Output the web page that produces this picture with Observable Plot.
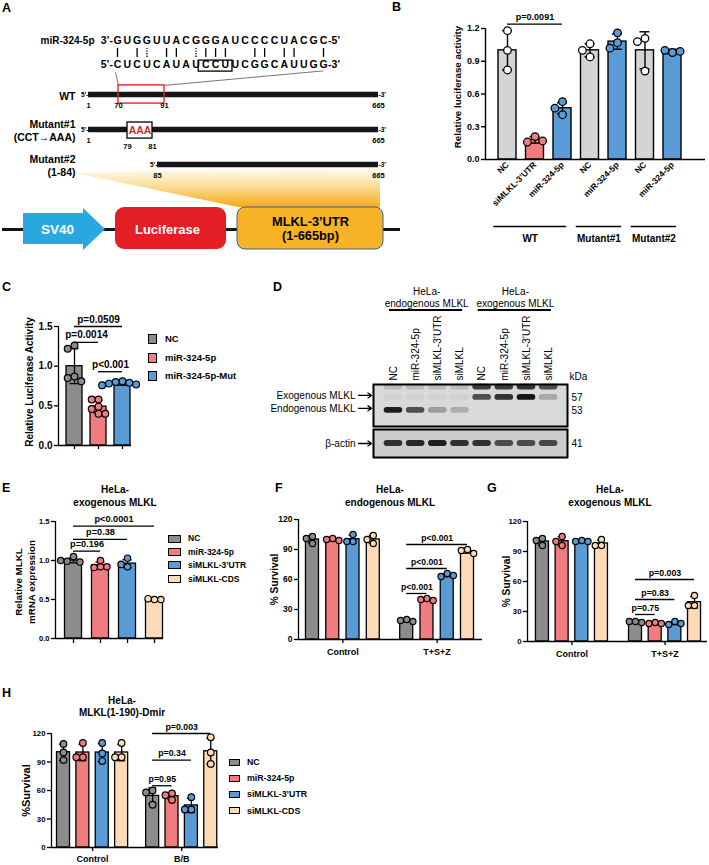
<!DOCTYPE html>
<html><head><meta charset="utf-8">
<script src="https://cdn.jsdelivr.net/npm/d3@7"></script>
<script src="https://cdn.jsdelivr.net/npm/@observablehq/plot@0.6"></script>
<style>
html,body{margin:0;padding:0;background:#fff;}
#fig{position:relative;width:709px;height:865px;overflow:hidden;background:#fff;font-family:Arial,"Liberation Sans",Helvetica,sans-serif;}
#fig svg{position:absolute;overflow:visible;max-width:none !important;}
#fig .t{position:absolute;white-space:pre;line-height:1;color:#000;font-family:Arial,"Liberation Sans",Helvetica,sans-serif;}
</style></head><body><div id="fig"></div>
<script>
// ===================== DATA =====================
// Panel A – miR-324-5p / MLKL 3'UTR duplex and reporter constructs
const mirSeq = "GUGGUUACGGGAUCCCCUACGC".split("");
const mrnaSeq = "CUCUCAUAUCCUUCGGCAUUGG".split("");
const pairSlots = [0, 2, 5, 6, 9, 10, 11, 14, 15, 17, 18, 21];
const wobbleSlots = [3, 8];
const seedBox = [9, 11];
const utrNames = ["WT", "Mutant#1", "Mutant#2"];
const utrSub = ["", "(CCT→AAA)", "(1-84)"];
const utrStart = [1, 1, 85];
const utrEnd = [665, 665, 665];
const wtSite = [70, 91];
const mutSite = [79, 81];
const mutText = "AAA";
const constructParts = ["SV40", "Luciferase", "MLKL-3’UTR\n(1-665bp)"];

// Panel B
const bConds = ["NC", "siMLKL-3’UTR", "miR-324-5p", "NC", "miR-324-5p", "NC", "miR-324-5p"];
const bGroups = ["WT", "WT", "WT", "Mutant#1", "Mutant#1", "Mutant#2", "Mutant#2"];
const bMeans = [1.00, 0.18, 0.47, 1.00, 1.08, 1.00, 0.99];
const bSD = [0.18, 0.03, 0.05, 0.06, 0.07, 0.17, 0.02];
const bPoints = [[1.18, 1.00, 0.82], [0.21, 0.16, 0.17], [0.53, 0.47, 0.41], [1.06, 1.00, 0.94], [1.16, 1.07, 1.02], [1.11, 1.08, 0.81], [0.98, 1.00, 0.99]];
const bTicks = [0, 0.3, 0.6, 0.9, 1.2];
const bSig = [{from: 0, to: 2, y: 1.24, label: "p=0.0091"}];

// Panel C
const cConds = ["NC", "miR-324-5p", "miR-324-5p-Mut"];
const cMeans = [1.00, 0.49, 0.78];
const cSD = [0.22, 0.08, 0.02];
const cPoints = [[1.26, 1.22, 0.87, 0.85, 0.81], [0.58, 0.58, 0.49, 0.46, 0.40, 0.40], [0.81, 0.80, 0.79, 0.78, 0.77, 0.76]];
const cTicks = [0, 0.5, 1.0, 1.5];
const cSig = [{from: 0, to: 2, y: 1.5, label: "p=0.0509"}, {from: 0, to: 1, y: 1.30, label: "p=0.0014"}, {from: 1, to: 2, y: 0.93, label: "p<0.001"}];

// Panel D – western blot
const dLanes = ["NC", "miR-324-5p", "siMLKL-3’UTR", "siMLKL", "NC", "miR-324-5p", "siMLKL-3’UTR", "siMLKL"];
const dSets = [{name: "HeLa-\nendogenous MLKL", from: 0, to: 3}, {name: "HeLa-\nexogenous MLKL", from: 4, to: 7}];
const dMarkers = [{name: "Exogenous MLKL", kDa: 57}, {name: "Endogenous MLKL", kDa: 53}];
const dBandKDa = [60.2, 57, 53];
const dBandLevel = [
  [0.15, 0.15, 0.15, 0.15, 0.8, 0.8, 0.85, 0.7],
  [0.04, 0.04, 0.04, 0.04, 0.7, 0.85, 1.0, 0.25],
  [0.95, 0.7, 0.3, 0.22, 0, 0, 0, 0]
];
const actinKDa = 41;
const actinLevel = [0.85, 0.9, 0.95, 0.85, 0.85, 0.7, 0.7, 0.72];

// Panels E–H
const conds4 = ["NC", "miR-324-5p", "siMLKL-3’UTR", "siMLKL-CDS"];
const eMeans = [1.00, 0.94, 0.96, 0.50];
const eSD = [0.03, 0.04, 0.05, 0.01];
const ePoints = [[1.05, 0.99, 0.98, 1.00], [1.00, 0.92, 0.91, 0.92], [1.03, 0.92, 0.95], [0.50, 0.51, 0.50]];
const eTicks = [0, 0.5, 1.0, 1.5];
const eSig = [{from: 0, to: 3, y: 1.44, label: "p<0.0001"}, {from: 0, to: 2, y: 1.27, label: "p=0.38"}, {from: 0, to: 1, y: 1.12, label: "p=0.196"}];

const survTicks = [0, 30, 60, 90, 120];
const fTreats = ["Control", "T+S+Z"];
const fMeans = [100, 100, 100.3, 100, 19, 40, 64.3, 88.3];
const fSD = [3.6, 1, 4, 4, 1, 1, 1.5, 2];
const fPoints = [[103, 101, 96], [101, 100, 99], [105, 98, 98], [104, 96, 100], [20, 19, 18], [41, 40, 39], [66, 63, 64], [90, 89, 86]];
const fSig = [{from: 0, to: 3, y: 95, label: "p<0.001"}, {from: 0, to: 2, y: 71, label: "p<0.001"}, {from: 0, to: 1, y: 46, label: "p<0.001"}];

const gTreats = ["Control", "T+S+Z"];
const gMeans = [100, 100.3, 100.3, 98, 19.7, 18.3, 18.3, 39.3];
const gSD = [3.6, 4.5, 0.6, 3.5, 0.6, 0.6, 1.5, 5.8];
const gPoints = [[103, 101, 96], [105, 100, 96], [101, 100, 100], [102, 96, 96], [20, 20, 19], [19, 18, 18], [20, 17, 18], [46, 36, 36]];
const gSig = [{from: 0, to: 3, y: 62, label: "p=0.003"}, {from: 0, to: 2, y: 42, label: "p=0.83"}, {from: 0, to: 1, y: 27, label: "p=0.75"}];

const hTreats = ["Control", "B/B"];
const hMeans = [100.3, 100, 100, 100, 54.3, 54, 44.3, 101.3];
const hSD = [8.5, 8.7, 9.5, 8.7, 8.4, 3.6, 7.5, 13.6];
const hPoints = [[109, 100, 92], [110, 95, 95], [110, 99, 91], [110, 95, 95], [60, 58, 45], [57, 55, 50], [53, 40, 40], [116, 100, 88]];
const hSig = [{from: 0, to: 3, y: 120, label: "p=0.003"}, {from: 0, to: 2, y: 92, label: "p=0.34"}, {from: 0, to: 1, y: 65, label: "p=0.95"}];

// ===================== STYLE / HELPERS =====================
const FONT = "Arial, 'Liberation Sans', Helvetica, sans-serif";
const STYLE = {fontFamily: FONT, fontSize: "9px", fontWeight: "bold", background: "transparent", overflow: "visible", color: "#000"};
const C_GRAY = "#8c8c8e", C_PINK = "#f07c80", C_BLUE = "#5b9bd5", C_PEACH = "#fddbb6", C_LGRAY = "#d4d4d4";
const colors4 = [C_GRAY, C_PINK, C_BLUE, C_PEACH];
const fig = document.getElementById("fig");

function put(el, left, top) { el.style.left = left + "px"; el.style.top = top + "px"; fig.appendChild(el); return el; }
function txt(s, x, base, o = {}) {
  const size = o.size || 10;
  const d = document.createElement("div");
  d.className = "t"; d.textContent = s;
  d.style.fontSize = size + "px"; d.style.fontWeight = o.weight || "bold"; d.style.color = o.color || "#000";
  d.style.left = x + "px"; d.style.top = (base - 0.846 * size) + "px";
  if (o.anchor === "middle") d.style.transform = "translateX(-50%)";
  if (o.anchor === "end") d.style.transform = "translateX(-100%)";
  fig.appendChild(d); return d;
}
function legend(names, cols, o) {
  names.forEach((n, i) => {
    const cy = o.y + i * o.step;
    const s = document.createElement("div");
    s.style.cssText = `position:absolute;left:${o.x}px;top:${cy - o.h / 2}px;width:${o.w}px;height:${o.h}px;background:${cols[i]};border:1.3px solid #000;box-sizing:border-box;`;
    fig.appendChild(s);
    txt(n, o.tx, cy + 0.36 * o.size, {size: o.size});
  });
}
function swarm(vals, ppuX, ppuY, r) {
  const placed = [], step = 2 * r;
  return vals.map(v => {
    for (const k of [0, -1, 1, -2, 2, -3, 3]) {
      const px = k * step;
      if (placed.every(p => Math.hypot(p.px - px, (p.v - v) * ppuY) >= 2 * r * 0.92)) {
        placed.push({px, v}); return {dx: px / ppuX, v};
      }
    }
    placed.push({px: 0, v}); return {dx: 0, v};
  });
}
function barPanel(c) {
  const [x0, x1] = c.xDomain, [y0, y1] = c.yDomain;
  const ppuX = (c.width - c.mL - c.mR) / (x1 - x0), ppuY = (c.height - c.mT - c.mB) / (y1 - y0);
  const hw = c.barW / 2 / ppuX, cw = c.capW / 2 / ppuX;
  const dots = c.bars.flatMap(b => swarm(b.pts, ppuX, ppuY, c.r).map(o => ({x: b.pos + o.dx, y: o.v, fill: b.ptFill})));
  const tickMap = new Map(c.xTicks.map(t => [t.pos, t.label]));
  const marks = [
    Plot.rect(c.bars, {x1: b => b.pos - hw, x2: b => b.pos + hw, y1: y0, y2: "mean", fill: "fill", stroke: "#000", strokeWidth: c.sw}),
    Plot.ruleX(c.bars, {x: "pos", y1: b => b.mean - b.sd, y2: b => b.mean + b.sd, stroke: "#000", strokeWidth: c.sw}),
    Plot.ruleY(c.bars, {y: b => b.mean + b.sd, x1: b => b.pos - cw, x2: b => b.pos + cw, strokeWidth: c.sw}),
    Plot.ruleY(c.bars, {y: b => b.mean - b.sd, x1: b => b.pos - cw, x2: b => b.pos + cw, strokeWidth: c.sw}),
    Plot.dot(dots, {x: "x", y: "y", r: c.r, fill: "fill", stroke: "#000", strokeWidth: c.sw * 0.9}),
    Plot.ruleX([x0], {y1: y0, y2: y1, strokeWidth: c.sw}),
    Plot.ruleY([y0], {strokeWidth: c.sw}),
    Plot.axisY({ticks: c.yTicks, tickFormat: c.yFmt, tickSize: 4, tickPadding: 2, fontSize: c.tickFont, fontWeight: "bold", strokeWidth: c.sw, label: null}),
    Plot.axisX({ticks: c.xTicks.map(t => t.pos), tickFormat: v => tickMap.get(v) ?? "", tickSize: c.xTickSize, tickPadding: c.xTickPad,
      tickRotate: c.xTickRotate || 0, fontSize: c.xTickFont, fontWeight: "bold", strokeWidth: c.sw, label: null}),
    Plot.ruleY(c.sig, {y: "y", x1: "a", x2: "b", strokeWidth: c.sw}),
    Plot.text(c.sig, {x: s => (s.a + s.b) / 2, y: "y", text: "label", lineAnchor: "bottom", dy: -4, fontSize: c.sigFont, fontWeight: "bold"}),
    Plot.text([c.yLabel], {frameAnchor: "left", textAnchor: "middle", rotate: -90, dx: c.yLabelDx, dy: c.yLabelDy || 0, fontSize: c.labelFont, fontWeight: "bold", lineHeight: 1.25}),
    ...(c.extra || [])
  ];
  const svg = Plot.plot({
    width: c.width, height: c.height, marginLeft: c.mL, marginRight: c.mR, marginTop: c.mT, marginBottom: c.mB,
    x: {domain: c.xDomain}, y: {domain: c.yDomain}, color: {type: "identity"},
    style: STYLE, marks
  });
  return put(svg, c.left, c.top);
}

// ===================== PANEL A =====================
const L = { // schematic layout of the reporter construct (pixels)
  wedge: [{x: 75, y1: 23, y2: 23}, {x: 238, y1: 19.6, y2: 57}, {x: 380, y1: 17, y2: 57}],
  backbone: {y: 79, x1: 2, x2: 400},
  arrow: [{x: 23, y1: 63, y2: 94}, {x: 83, y1: 63, y2: 94}, {x: 83, y1: 58, y2: 100}, {x: 105, y1: 79, y2: 79}],
  luc: {x1: 115, x2: 226, y1: 57, y2: 99},
  utr: {x1: 237, x2: 383, y1: 57, y2: 99}
};
const a3 = Plot.plot({
  width: 405, height: 110, margin: 0,
  x: {domain: [0, 405], range: [0, 405], axis: null}, y: {domain: [0, 110], range: [0, 110], axis: null},
  style: STYLE,
  marks: [
    Plot.area(L.wedge, {x1: "x", y1: "y1", y2: "y2", fill: "url(#wedgeGrad)"}),
    Plot.ruleY([L.backbone], {y: "y", x1: "x1", x2: "x2", strokeWidth: 3.2, stroke: "#151515"}),
    Plot.area(L.arrow, {x1: "x", y1: "y1", y2: "y2", fill: "#29a8e0"}),
    Plot.rect([L.luc], {x1: "x1", x2: "x2", y1: "y1", y2: "y2", rx: 9, fill: "#e31e24"}),
    Plot.rect([L.utr], {x1: "x1", x2: "x2", y1: "y1", y2: "y2", rx: 8, fill: "#f5b325", stroke: "#3e5e9c", strokeWidth: 1}),
    Plot.text([constructParts[0]], {x: 57, y: L.backbone.y, fill: "#fff", fontSize: 13.5}),
    Plot.text([constructParts[1]], {x: 167, y: L.backbone.y, fill: "#fff", fontSize: 13}),
    Plot.text([constructParts[2]], {x: (L.utr.x1 + L.utr.x2) / 2, y: 78, fill: "#000", fontSize: 12.8, lineHeight: 1.1})
  ]
});
d3.select(a3).insert("defs", ":first-child").html('<linearGradient id="wedgeGrad" x1="0" y1="0" x2="0" y2="1"><stop offset="0" stop-color="#fffdf6"/><stop offset="0.35" stop-color="#fde8b4"/><stop offset="1" stop-color="#f3ab18"/></linearGradient>');
put(a3, 0, 150);

const a1 = Plot.plot({
  width: 370, height: 55, marginLeft: 117, marginRight: 47, marginTop: 15, marginBottom: 15.5,
  x: {domain: [0, mirSeq.length - 1], axis: null}, y: {domain: [0, 1], axis: null},
  style: STYLE,
  marks: [
    Plot.text(mirSeq, {x: (d, i) => i, y: 1, text: d => d, fontSize: 10.5}),
    Plot.text(mrnaSeq, {x: (d, i) => i, y: 0, text: d => d, fontSize: 10.5}),
    Plot.text(["3’-"], {x: 0, y: 1, textAnchor: "end", dx: -4.5, fontSize: 10.5}),
    Plot.text(["-5’"], {x: mirSeq.length - 1, y: 1, textAnchor: "start", dx: 4.5, fontSize: 10.5}),
    Plot.text(["5’-"], {x: 0, y: 0, textAnchor: "end", dx: -4.5, fontSize: 10.5}),
    Plot.text(["-3’"], {x: mrnaSeq.length - 1, y: 0, textAnchor: "start", dx: 4.5, fontSize: 10.5}),
    Plot.text(["miR-324-5p"], {x: 0, y: 1, textAnchor: "end", dx: -23, fontSize: 10}),
    Plot.ruleX(pairSlots, {x: d => d, y1: 0.31, y2: 0.67, strokeWidth: 1.3}),
    Plot.ruleX(wobbleSlots, {x: d => d, y1: 0.31, y2: 0.67, strokeWidth: 1.3, strokeDasharray: "1.3,1.3"}),
    Plot.rect([seedBox], {x1: d => d[0] - 0.72, x2: d => d[1] + 0.72, y1: -0.27, y2: 0.18, fill: "none", stroke: "#000", strokeWidth: 1.3})
  ]
});

// nucleotide position -> schematic pixel (diagram is not to scale)
const ntBreaks = [1, 70, 79, 81, 85, 91, 665];
const ntPx = [88, 118, 127, 152, 157, 164, 378];
const nt = d3.scaleLinear(ntBreaks, ntPx);
const rowScale = d3.scaleLinear([0, 2], [16, 86]);
const rows = utrNames.map((n, i) => ({row: i, label: utrSub[i] ? n + "\n" + utrSub[i] : n, start: utrStart[i], end: utrEnd[i]}));
const sx1 = a1.scale("x"), sy1 = a1.scale("y");
const linkPageY = 25 + sy1.apply(-0.3) - 78;
const links = [
  {x1: sx1.apply(0) - 2, y1: rowScale.invert(linkPageY), x2: nt(wtSite[0]), y2: -0.26},
  {x1: sx1.apply(mirSeq.length - 1), y1: rowScale.invert(linkPageY - 1.5), x2: nt(wtSite[1]), y2: -0.26}
];
const posLabels = rows.flatMap(r => [{row: r.row, nt: r.start}, {row: r.row, nt: r.end}]).concat(wtSite.map(v => ({row: 0, nt: v})));
const posLabelsLow = mutSite.map(v => ({row: 1, nt: v}));
const a2 = Plot.plot({
  width: 400, height: 110, margin: 0,
  x: {domain: [0, 400], range: [0, 400], axis: null}, y: {domain: [0, 2], range: [16, 86], axis: null},
  style: STYLE,
  marks: [
    Plot.link(links, {x1: "x1", y1: "y1", x2: "x2", y2: "y2", stroke: "#666", strokeWidth: 0.9}),
    Plot.ruleY(rows, {y: "row", x1: d => nt(d.start), x2: d => nt(d.end), stroke: "#151515", strokeWidth: 5.5}),
    Plot.text(rows, {x: d => nt(d.start), y: "row", text: () => "5’-", textAnchor: "end", fontSize: 6.5}),
    Plot.text(rows, {x: d => nt(d.end), y: "row", text: () => "-3’", textAnchor: "start", fontSize: 6.5}),
    Plot.text(rows, {x: nt(ntBreaks[0]), y: "row", text: "label", textAnchor: "end", dx: -13, dy: 1, fontSize: 10.5, lineHeight: 1.2}),
    Plot.rect([wtSite], {x1: d => nt(d[0]), x2: d => nt(d[1]), y1: -0.26, y2: 0.26, fill: "none", stroke: "#e3262b", strokeWidth: 1.4}),
    Plot.rect([mutSite], {x1: d => nt(d[0]), x2: d => nt(d[1]), y1: 0.8, y2: 1.26, fill: "#fff", stroke: "#000", strokeWidth: 1.3}),
    Plot.text([mutText], {x: nt((mutSite[0] + mutSite[1]) / 2), y: 1.03, fill: "#e3262b", fontSize: 10.5}),
    Plot.text(posLabels, {x: d => nt(d.nt), y: "row", text: d => String(d.nt), dy: 11.2, fontSize: 7.5}),
    Plot.text(posLabelsLow, {x: d => nt(d.nt), y: "row", text: d => String(d.nt), dy: 16.6, fontSize: 7.5})
  ]
});
put(a2, 0, 78);
put(a1, 0, 25);

// ===================== PANEL B =====================
const bColor = {"NC": C_LGRAY, "siMLKL-3’UTR": C_PINK, "miR-324-5p": C_BLUE};
const bBars = bMeans.map((m, i) => ({pos: i, mean: m, sd: bSD[i], pts: bPoints[i], fill: bColor[bConds[i]], ptFill: bConds[i] === "NC" ? "#fff" : bColor[bConds[i]]}));
const bSpans = [...new Set(bGroups)].map(n => ({name: n, from: bGroups.indexOf(n), to: bGroups.lastIndexOf(n)}));
barPanel({
  left: 360, top: 0, width: 349, height: 250, mL: 125, mR: 4, mT: 28, mB: 91,
  xDomain: [-0.8, 7.2], yDomain: [0, 1.2], yTicks: bTicks, yFmt: d3.format(".1f"),
  bars: bBars, barW: 18, capW: 10, r: 3.8, sw: 1.4, tickFont: 9, sigFont: 9, labelFont: 9.8,
  xTicks: bBars.map((b, i) => ({pos: b.pos, label: bConds[i]})), xTickSize: 0, xTickPad: 4, xTickRotate: -45, xTickFont: 8.5,
  sig: bSig.map(s => ({a: s.from, b: s.to, y: s.y, label: s.label})),
  yLabel: "Relative luciferase activity", yLabelDx: -28, yLabelDy: -7,
  extra: [
    Plot.ruleY(bSpans, {y: 0, x1: g => g.from - 0.5, x2: g => g.to + 0.15, dy: 67, strokeWidth: 1.6}),
    Plot.text(bSpans, {x: g => (g.from + g.to - 0.35) / 2, y: 0, text: "name", dy: 79, fontSize: 10, fontWeight: "bold"})
  ]
});

// ===================== PANEL C =====================
const cCols = [C_GRAY, C_PINK, C_BLUE];
const cBars = cMeans.map((m, i) => ({pos: i, mean: m, sd: cSD[i], pts: cPoints[i], fill: cCols[i], ptFill: cCols[i]}));
barPanel({
  left: 0, top: 300, width: 140, height: 160, mL: 58, mR: 9, mT: 26, mB: 15,
  xDomain: [-0.667, 2.375], yDomain: [0, 1.5], yTicks: cTicks, yFmt: d3.format(".1f"),
  bars: cBars, barW: 16, capW: 9, r: 3.4, sw: 1.3, tickFont: 10, sigFont: 10, labelFont: 10,
  xTicks: cBars.map(b => ({pos: b.pos, label: ""})), xTickSize: 4, xTickPad: 2, xTickFont: 8,
  sig: cSig.map(s => ({a: s.from, b: s.to, y: s.y, label: s.label})),
  yLabel: "Relative Luciferase Activity", yLabelDx: -30, yLabelDy: -4
});
legend(cConds, cCols, {x: 148, y: 339, step: 18.5, w: 9, h: 10, tx: 165, size: 9.5});

// ===================== PANEL D =====================
const dX = [-0.9, 7.85];
const D_W = 400, D_ML = 143, D_MR = 63;
const dPPU = (D_W - D_ML - D_MR) / (dX[1] - dX[0]);
const laneIdx = dLanes.map((_, i) => i);
const upperBands = dBandKDa.flatMap((k, j) => laneIdx.map(i => ({lane: i, kDa: k, level: dBandLevel[j][i]})));
const actinBands = laneIdx.map(i => ({lane: i, kDa: actinKDa, level: actinLevel[i]}));
const blotFilter = id => `<filter id="${id}" x="-20%" y="-60%" width="140%" height="220%"><feGaussianBlur stdDeviation="0.9"/></filter>`;
const arrowOpts = {x1: dX[0] - 15 / dPPU, x2: dX[0] - 2 / dPPU, headLength: 5, headAngle: 70, strokeWidth: 1.3, stroke: "#000"};
const dUpper = Plot.plot({
  width: D_W, height: 148, marginLeft: D_ML, marginRight: D_MR, marginTop: 104, marginBottom: 2,
  x: {domain: dX}, y: {domain: [48, 61]}, opacity: {domain: [0, 1], range: [0, 1]},
  style: {...STYLE, fontWeight: "normal", fontSize: "10px"},
  marks: [
    Plot.frame({fill: "#d9d9d9", stroke: "#000", strokeWidth: 1.6}),
    Plot.rect(upperBands, {x1: d => d.lane - 0.42, x2: d => d.lane + 0.42, y1: d => d.kDa - 0.9, y2: d => d.kDa + 0.9, fill: "#141414", fillOpacity: "level", rx: 3, ariaLabel: "bands"}),
    Plot.frame({stroke: "#000", strokeWidth: 1.6}),
    Plot.axisX({anchor: "top", ticks: laneIdx, tickFormat: i => dLanes[i], tickRotate: -90, tickSize: 0, tickPadding: 4, fontSize: 10, fontWeight: "normal", label: null}),
    Plot.axisY({anchor: "right", ticks: dMarkers.map(m => m.kDa), tickSize: 0, tickPadding: 4, fontSize: 10, fontWeight: "normal", label: null}),
    Plot.text(["kDa"], {frameAnchor: "top-right", dx: 2, dy: -11.5, textAnchor: "start", fontSize: 10, fontWeight: "normal"}),
    Plot.text(dSets, {x: s => (s.from + s.to) / 2, y: 61, text: "name", lineAnchor: "bottom", dy: -78, fontSize: 10, fontWeight: "normal", lineHeight: 1.12}),
    Plot.link(dSets, {x1: s => s.from - 0.2, x2: s => s.to + 0.1, y1: 61, y2: 61, dy: -74.5, strokeWidth: 1.8}),
    Plot.text(dMarkers, {x: dX[0], y: "kDa", text: "name", textAnchor: "end", dx: -18, dy: -2, fontSize: 10, fontWeight: "normal"}),
    Plot.arrow(dMarkers, {...arrowOpts, y1: "kDa", y2: "kDa", dy: -2})
  ]
});
d3.select(dUpper).insert("defs", ":first-child").html(blotFilter("blurU"));
d3.select(dUpper).selectAll('g[aria-label="bands"]').attr("filter", "url(#blurU)");
put(dUpper, 230, 280);

const dLower = Plot.plot({
  width: D_W, height: 32, marginLeft: D_ML, marginRight: D_MR, marginTop: 1, marginBottom: 3,
  x: {domain: dX, axis: null}, y: {domain: [37, 45]}, opacity: {domain: [0, 1], range: [0, 1]},
  style: {...STYLE, fontWeight: "normal", fontSize: "10px"},
  marks: [
    Plot.frame({fill: "#cdcdcd", stroke: "#000", strokeWidth: 1.6}),
    Plot.rect(actinBands, {x1: d => d.lane - 0.42, x2: d => d.lane + 0.42, y1: d => d.kDa - 0.85, y2: d => d.kDa + 0.85, fill: "#141414", fillOpacity: "level", rx: 3, ariaLabel: "bands"}),
    Plot.frame({stroke: "#000", strokeWidth: 1.6}),
    Plot.axisY({anchor: "right", ticks: [actinKDa], tickSize: 0, tickPadding: 4, fontSize: 10, fontWeight: "normal", label: null}),
    Plot.text(["β-actin"], {x: dX[0], y: actinKDa, textAnchor: "end", dx: -18, fontSize: 10, fontWeight: "normal"}),
    Plot.arrow([actinKDa], {...arrowOpts, y1: d => d, y2: d => d})
  ]
});
d3.select(dLower).insert("defs", ":first-child").html(blotFilter("blurL"));
d3.select(dLower).selectAll('g[aria-label="bands"]').attr("filter", "url(#blurL)");
put(dLower, 230, 428);

// ===================== PANEL E =====================
const eBars = eMeans.map((m, i) => ({pos: i, mean: m, sd: eSD[i], pts: ePoints[i], fill: colors4[i], ptFill: colors4[i]}));
barPanel({
  left: 0, top: 510, width: 170, height: 140, mL: 55, mR: 7, mT: 11, mB: 12,
  xDomain: [-0.667, 3.333], yDomain: [0, 1.5], yTicks: eTicks, yFmt: d3.format(".1f"),
  bars: eBars, barW: 17, capW: 9, r: 3.2, sw: 1.3, tickFont: 7.5, sigFont: 9.2, labelFont: 9.8,
  xTicks: eBars.map(b => ({pos: b.pos, label: ""})), xTickSize: 5, xTickPad: 2, xTickFont: 8,
  sig: eSig.map(s => ({a: s.from, b: s.to, y: s.y, label: s.label})),
  yLabel: "Relative MLKL\nmRNA expression", yLabelDx: -31, yLabelDy: 2
});
legend(conds4, colors4, {x: 168, y: 538.5, step: 13.4, w: 13, h: 8, tx: 188, size: 8.5});

// ===================== PANELS F, G, H =====================
function grouped(means, sds, pts, gap) {
  return means.map((m, i) => {
    const g = Math.floor(i / 4), k = i % 4;
    return {pos: g * (4 + gap) + k, mean: m, sd: sds[i], pts: pts[i], fill: colors4[k], ptFill: colors4[k]};
  });
}
function groupTicks(names, gap) { return names.map((n, g) => ({pos: g * (4 + gap) + 1.5, label: n})); }
function groupSig(sig, gap) { return sig.map(s => ({a: (4 + gap) + s.from, b: (4 + gap) + s.to, y: s.y, label: s.label})); }

const GAP_F = 0.65;
barPanel({
  left: 240, top: 510, width: 245, height: 160, mL: 58, mR: 3, mT: 9, mB: 31,
  xDomain: [-0.69, 8.39], yDomain: [0, 120], yTicks: survTicks, yFmt: d => String(d),
  bars: grouped(fMeans, fSD, fPoints, GAP_F), barW: 13, capW: 8, r: 3.1, sw: 1.3, tickFont: 8.5, sigFont: 8.6, labelFont: 10.2,
  xTicks: groupTicks(fTreats, GAP_F), xTickSize: 4, xTickPad: 5, xTickFont: 9,
  sig: groupSig(fSig, GAP_F),
  yLabel: "% Survival", yLabelDx: -25
});

const GAP_G = 0.73;
barPanel({
  left: 470, top: 510, width: 239, height: 160, mL: 57, mR: 2, mT: 11, mB: 29,
  xDomain: [-0.76, 8.39], yDomain: [0, 120], yTicks: survTicks, yFmt: d => String(d),
  bars: grouped(gMeans, gSD, gPoints, GAP_G), barW: 13, capW: 8, r: 3.1, sw: 1.3, tickFont: 7.8, sigFont: 8.8, labelFont: 10.2,
  xTicks: groupTicks(gTreats, GAP_G), xTickSize: 4, xTickPad: 5, xTickFont: 9,
  sig: groupSig(gSig, GAP_G),
  yLabel: "% Survival", yLabelDx: -22
});

const GAP_H = 0.6;
barPanel({
  left: 0, top: 725, width: 230, height: 140, mL: 51, mR: 12, mT: 8, mB: 18,
  xDomain: [-0.62, 8.0], yDomain: [0, 120], yTicks: survTicks, yFmt: d => String(d),
  bars: grouped(hMeans, hSD, hPoints, GAP_H), barW: 13, capW: 8, r: 3.3, sw: 1.3, tickFont: 7.8, sigFont: 8.8, labelFont: 11,
  xTicks: groupTicks(hTreats, GAP_H), xTickSize: 4, xTickPad: 4, xTickFont: 9,
  sig: groupSig(hSig, GAP_H),
  yLabel: "%Survival", yLabelDx: -26
});
legend(conds4, colors4, {x: 229, y: 762, step: 16.3, w: 11, h: 7, tx: 247, size: 8.8});

// ===================== TITLES & PANEL LETTERS =====================
[["A", 2, 13], ["B", 392, 12], ["C", 2, 292], ["D", 273, 292], ["E", 2, 493], ["F", 275, 493], ["G", 487, 493], ["H", 2, 698]]
  .forEach(([s, x, y]) => txt(s, x, y, {size: 12.5}));
txt("HeLa-", 115, 493, {anchor: "middle", size: 10}); txt("exogenous MLKL", 115, 506, {anchor: "middle", size: 10});
txt("HeLa-", 390, 493, {anchor: "middle", size: 10}); txt("endogenous MLKL", 390, 506, {anchor: "middle", size: 10});
txt("HeLa-", 610, 493, {anchor: "middle", size: 10}); txt("exogenous MLKL", 610, 506, {anchor: "middle", size: 10});
txt("HeLa-", 122, 704, {anchor: "middle", size: 10}); txt("MLKL(1-190)-Dmir", 122, 716, {anchor: "middle", size: 10});
</script></body></html>
